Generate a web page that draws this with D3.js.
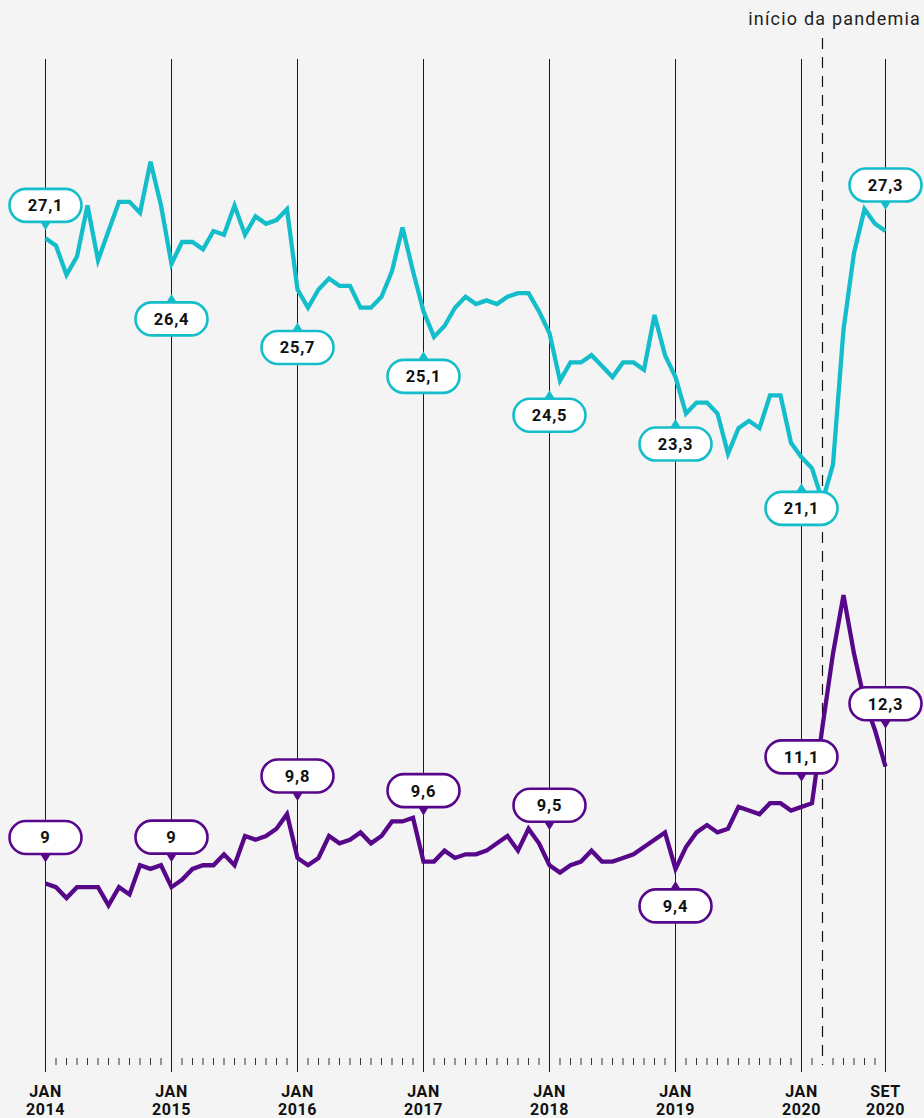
<!DOCTYPE html>
<html>
<head>
<meta charset="utf-8">
<script src="https://cdn.jsdelivr.net/npm/d3@7"></script>
<style>
  body { margin: 0; background: #f4f4f4; }
  svg { display: block; font-family: Roboto, "Noto Sans", sans-serif; }
</style>
</head>
<body>
<div id="chart"></div>
<script>
// months Jan 2014 .. Sep 2020
var months = d3.timeMonth.range(new Date(2014, 0, 1), new Date(2020, 8, 2)).map(d3.timeFormat("%Y-%m"));

// cyan series
var cyanValues = [
  27.1, 26.9, 26.1, 26.6, 28.0, 26.5, 27.3, 28.1, 28.1, 27.8, 29.2, 28.0,
  26.4, 27.0, 27.0, 26.8, 27.3, 27.2, 28.0, 27.2, 27.7, 27.5, 27.6, 27.9,
  25.7, 25.2, 25.7, 26.0, 25.8, 25.8, 25.2, 25.2, 25.5, 26.2, 27.4, 26.2,
  25.1, 24.4, 24.7, 25.2, 25.5, 25.3, 25.4, 25.3, 25.5, 25.6, 25.6, 25.1,
  24.5, 23.2, 23.7, 23.7, 23.9, 23.6, 23.3, 23.7, 23.7, 23.5, 25.0, 23.9,
  23.3, 22.3, 22.6, 22.6, 22.3, 21.2, 21.9, 22.1, 21.9, 22.8, 22.8, 21.5,
  21.1, 20.8, 19.9, 20.9, 24.6, 26.7, 27.9, 27.5, 27.3
];

// purple series
var purpleValues = [
  9.0, 8.9, 8.6, 8.9, 8.9, 8.9, 8.4, 8.9, 8.7, 9.5, 9.4, 9.5,
  8.9, 9.1, 9.4, 9.5, 9.5, 9.8, 9.5, 10.3, 10.2, 10.3, 10.5, 10.9,
  9.7, 9.5, 9.7, 10.3, 10.1, 10.2, 10.4, 10.1, 10.3, 10.7, 10.7, 10.8,
  9.6, 9.6, 9.9, 9.7, 9.8, 9.8, 9.9, 10.1, 10.3, 9.9, 10.5, 10.1,
  9.5, 9.3, 9.5, 9.6, 9.9, 9.6, 9.6, 9.7, 9.8, 10.0, 10.2, 10.4,
  9.4, 10.0, 10.4, 10.6, 10.4, 10.5, 11.1, 11.0, 10.9, 11.2, 11.2, 11.0,
  11.1, 11.2, 13.3, 15.3, 16.9, 15.3, 14.0, 13.2, 12.2
];

// vertical guide months and their labels
var gridMonths = ["2014-01", "2015-01", "2016-01", "2017-01", "2018-01", "2019-01", "2020-01", "2020-09"];
var tickTop = ["JAN", "JAN", "JAN", "JAN", "JAN", "JAN", "JAN", "SET"];
var tickBottom = ["2014", "2015", "2016", "2017", "2018", "2019", "2020", "2020"];

var pandemicMonth = "2020-03";
var pandemicText = "início da pandemia";

// annotation labels
var labelMonths = ["2014-01", "2015-01", "2016-01", "2017-01", "2018-01", "2019-01", "2020-01", "2020-09"];
var cyanLabels = ["27,1", "26,4", "25,7", "25,1", "24,5", "23,3", "21,1", "27,3"];
var purpleLabels = ["9", "9", "9,8", "9,6", "9,5", "9,4", "11,1", "12,3"];

// layout: pointer tip offset from the line (neg = box above)
var cyanOffsets = [-8, 30, 33, 40, 57, 42, 26, -21];
var purpleOffsets = [-21, -25, -57, -46, -35, 12, -25, -38];

var width = 924, height = 1118;
var cyanColor = "#14bdca";
var purpleColor = "#56078a";

var svg = d3.select("#chart")
  .append("svg")
  .attr("width", width)
  .attr("height", height);

svg.append("rect")
  .attr("width", width)
  .attr("height", height)
  .attr("fill", "#f4f4f4");

var x = d3.scalePoint().domain(months).range([45.5, 885.5]);
var yCyan = d3.scaleLinear().domain([20, 28]).range([497.5, 205.5]);
var yPurple = d3.scaleLinear().domain([8, 17]).range([920, 591.5]);

var gridTop = 59, gridBottom = 1072;

// vertical lines
svg.append("g")
  .attr("transform", "translate(0," + gridBottom + ")")
  .call(d3.axisBottom(x).tickValues(gridMonths).tickSize(-(gridBottom - gridTop)).tickFormat("").offset(0))
  .call(function(g) { g.select(".domain").remove(); })
  .call(function(g) { g.selectAll("line").attr("stroke", "#1a1a1a"); });

// month ticks
var minorMonths = months.filter(function(m) { return gridMonths.indexOf(m) < 0 && m !== pandemicMonth; });
svg.append("g")
  .attr("transform", "translate(0,1058)")
  .call(d3.axisBottom(x).tickValues(minorMonths).tickSize(7).tickFormat("").offset(0))
  .call(function(g) { g.select(".domain").remove(); })
  .call(function(g) { g.selectAll("line").attr("stroke", "#333"); });

// tick labels
var lab = svg.append("g").attr("font-weight", 700).attr("font-size", "16px")
  .attr("fill", "#111").attr("text-anchor", "middle").attr("letter-spacing", "0.6px");
gridMonths.forEach(function(m, k) {
  lab.append("text").attr("x", x(m)).attr("y", 1097).text(tickTop[k]);
  lab.append("text").attr("x", x(m)).attr("y", 1115).text(tickBottom[k]);
});

// pandemic marker
svg.append("line")
  .attr("x1", x(pandemicMonth)).attr("x2", x(pandemicMonth))
  .attr("y1", 38).attr("y2", 1065)
  .attr("stroke", "#111")
  .attr("stroke-width", 1.2)
  .attr("stroke-dasharray", "11,8");

svg.append("text")
  .attr("x", 921).attr("y", 25)
  .attr("text-anchor", "end")
  .attr("font-size", "18px")
  .attr("letter-spacing", "1.2px")
  .attr("fill", "#222")
  .text(pandemicText);

// lines
function drawLine(values, scale, color) {
  var line = d3.line()
    .x(function(d, i) { return x(months[i]); })
    .y(function(d) { return scale(d); });
  svg.append("path")
    .datum(values)
    .attr("d", line)
    .attr("fill", "none")
    .attr("stroke", color)
    .attr("stroke-width", 4.3);
}
drawLine(cyanValues, yCyan, cyanColor);
drawLine(purpleValues, yPurple, purpleColor);

// labels
var boxW = 72, boxH = 33;
function addLabels(texts, offsets, values, scale, color) {
  labelMonths.forEach(function(m, k) {
    var i = months.indexOf(m);
    var px = x(m);
    var tip = scale(values[i]) + offsets[k];
    var dir = offsets[k] < 0 ? -1 : 1;
    var edge = tip + dir * 8.5;
    var g = svg.append("g");
    g.append("path")
      .attr("d", "M" + px + "," + tip + "L" + (px - 6.5) + "," + (edge + dir * 2) + "L" + (px + 6.5) + "," + (edge + dir * 2) + "Z")
      .attr("fill", color);
    var by = dir < 0 ? edge - boxH : edge;
    g.append("rect")
      .attr("x", px - boxW / 2).attr("y", by)
      .attr("width", boxW).attr("height", boxH)
      .attr("rx", boxH / 2)
      .attr("fill", "#fff")
      .attr("stroke", color)
      .attr("stroke-width", 2.6);
    g.append("text")
      .attr("x", px).attr("y", by + boxH / 2)
      .attr("dy", "0.36em")
      .attr("text-anchor", "middle")
      .attr("font-weight", 700)
      .attr("font-size", "16.5px")
      .attr("letter-spacing", "0.8px")
      .attr("fill", "#111")
      .text(texts[k]);
  });
}
addLabels(cyanLabels, cyanOffsets, cyanValues, yCyan, cyanColor);
addLabels(purpleLabels, purpleOffsets, purpleValues, yPurple, purpleColor);
</script>
</body>
</html>
